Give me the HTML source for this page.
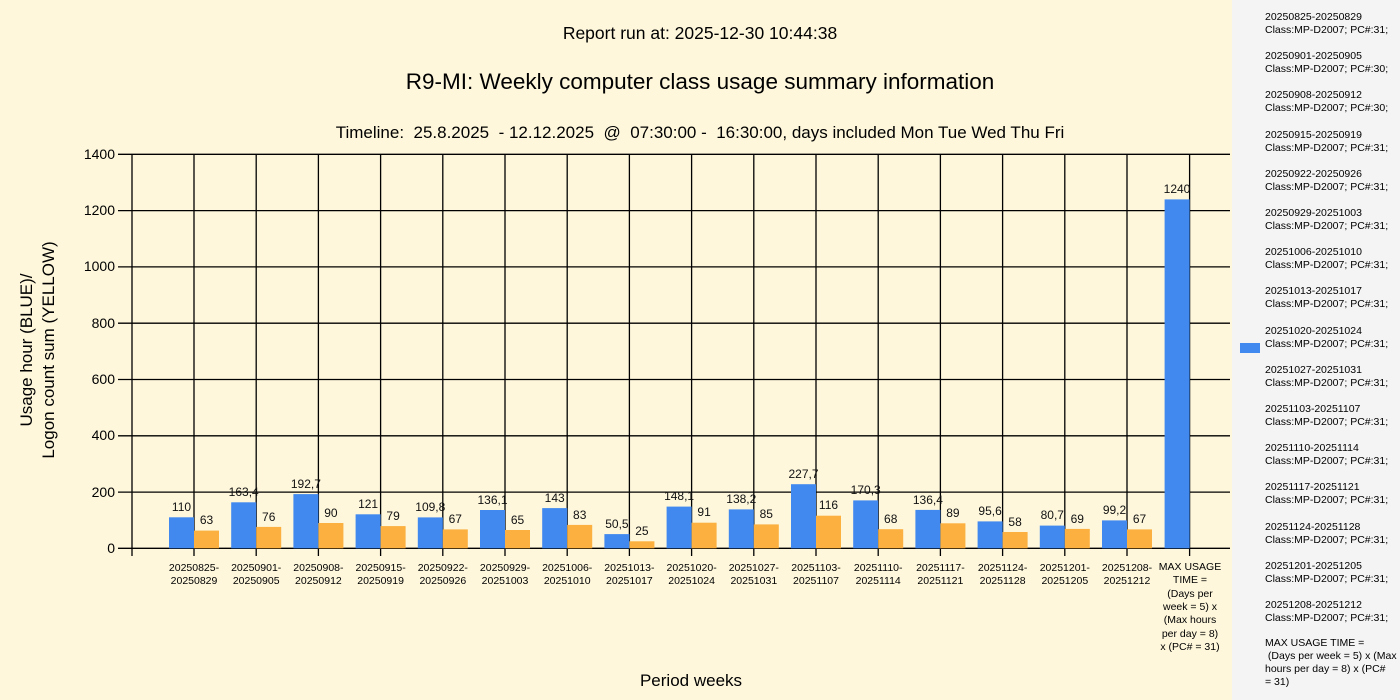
<!DOCTYPE html>
<html><head><meta charset="utf-8"><style>
html,body{margin:0;padding:0;background:#fef7dc;}
svg{display:block;font-family:"Liberation Sans",sans-serif;}
.pre{white-space:pre;}
</style></head><body>
<svg width="1400" height="700" xmlns="http://www.w3.org/2000/svg">
<rect width="1400" height="700" fill="#fef7dc"/>
<rect x="1232" y="0" width="168" height="700" fill="#f4f4f4"/>
<g font-size="16" text-anchor="middle" fill="#000">
<text x="700" y="39" font-size="17.5">Report run at: 2025-12-30 10:44:38</text>
<text x="700" y="89" font-size="22.5">R9-MI: Weekly computer class usage summary information</text>
<text x="700" y="138" font-size="17" class="pre" xml:space="preserve">Timeline:  25.8.2025  - 12.12.2025  @  07:30:00 -  16:30:00, days included Mon Tue Wed Thu Fri</text>
<text x="691" y="686" font-size="17">Period weeks</text>
<text transform="translate(32,350) rotate(-90)" font-size="17">Usage hour (BLUE)/</text>
<text transform="translate(54,350) rotate(-90)" font-size="17">Logon count sum (YELLOW)</text>
</g>
<g stroke="#000" stroke-width="1.3">
<line x1="118" y1="154.3" x2="1230" y2="154.3"/>
<line x1="118" y1="210.6" x2="1230" y2="210.6"/>
<line x1="118" y1="266.9" x2="1230" y2="266.9"/>
<line x1="118" y1="323.2" x2="1230" y2="323.2"/>
<line x1="118" y1="379.5" x2="1230" y2="379.5"/>
<line x1="118" y1="435.8" x2="1230" y2="435.8"/>
<line x1="118" y1="492.1" x2="1230" y2="492.1"/>
<line x1="118" y1="548.3" x2="1230" y2="548.3"/>
<line x1="132" y1="154" x2="132" y2="556"/>
<line x1="194" y1="154" x2="194" y2="556"/>
<line x1="256.2" y1="154" x2="256.2" y2="556"/>
<line x1="318.4" y1="154" x2="318.4" y2="556"/>
<line x1="380.6" y1="154" x2="380.6" y2="556"/>
<line x1="442.8" y1="154" x2="442.8" y2="556"/>
<line x1="505" y1="154" x2="505" y2="556"/>
<line x1="567.2" y1="154" x2="567.2" y2="556"/>
<line x1="629.4" y1="154" x2="629.4" y2="556"/>
<line x1="691.6" y1="154" x2="691.6" y2="556"/>
<line x1="753.8" y1="154" x2="753.8" y2="556"/>
<line x1="816" y1="154" x2="816" y2="556"/>
<line x1="878.2" y1="154" x2="878.2" y2="556"/>
<line x1="940.4" y1="154" x2="940.4" y2="556"/>
<line x1="1002.6" y1="154" x2="1002.6" y2="556"/>
<line x1="1064.8" y1="154" x2="1064.8" y2="556"/>
<line x1="1127" y1="154" x2="1127" y2="556"/>
<line x1="1189.6" y1="154" x2="1189.6" y2="556"/>
</g>
<g font-size="14" text-anchor="end">
<text x="115" y="159">1400</text><text x="115" y="215">1200</text><text x="115" y="271">1000</text>
<text x="115" y="328">800</text><text x="115" y="384">600</text><text x="115" y="440">400</text>
<text x="115" y="497">200</text><text x="115" y="553">0</text>
</g>
<g fill="#4189ef">
<rect x="169" y="517.3" width="25" height="31"/>
<rect x="231.2" y="502.3" width="25" height="46"/>
<rect x="293.4" y="494.1" width="25" height="54.2"/>
<rect x="355.6" y="514.3" width="25" height="34"/>
<rect x="417.8" y="517.4" width="25" height="30.9"/>
<rect x="480" y="510" width="25" height="38.3"/>
<rect x="542.2" y="508.1" width="25" height="40.2"/>
<rect x="604.4" y="534.1" width="25" height="14.2"/>
<rect x="666.6" y="506.6" width="25" height="41.7"/>
<rect x="728.8" y="509.4" width="25" height="38.9"/>
<rect x="791" y="484.2" width="25" height="64.1"/>
<rect x="853.2" y="500.4" width="25" height="47.9"/>
<rect x="915.4" y="509.9" width="25" height="38.4"/>
<rect x="977.6" y="521.4" width="25" height="26.9"/>
<rect x="1039.8" y="525.6" width="25" height="22.7"/>
<rect x="1102" y="520.4" width="25" height="27.9"/>
<rect x="1164.6" y="199.4" width="25" height="348.9"/>
</g>
<g fill="#fbb03f">
<rect x="194" y="530.6" width="25" height="17.7"/>
<rect x="256.2" y="526.9" width="25" height="21.4"/>
<rect x="318.4" y="523" width="25" height="25.3"/>
<rect x="380.6" y="526.1" width="25" height="22.2"/>
<rect x="442.8" y="529.4" width="25" height="18.9"/>
<rect x="505" y="530" width="25" height="18.3"/>
<rect x="567.2" y="524.9" width="25" height="23.4"/>
<rect x="629.4" y="541.3" width="25" height="7"/>
<rect x="691.6" y="522.7" width="25" height="25.6"/>
<rect x="753.8" y="524.4" width="25" height="23.9"/>
<rect x="816" y="515.7" width="25" height="32.6"/>
<rect x="878.2" y="529.2" width="25" height="19.1"/>
<rect x="940.4" y="523.3" width="25" height="25"/>
<rect x="1002.6" y="532" width="25" height="16.3"/>
<rect x="1064.8" y="528.9" width="25" height="19.4"/>
<rect x="1127" y="529.4" width="25" height="18.9"/>
</g>
<g font-size="12" text-anchor="middle" fill="#111">
<text x="181.5" y="511">110</text><text x="206.5" y="524">63</text>
<text x="243.7" y="496">163,4</text><text x="268.7" y="521">76</text>
<text x="305.9" y="488">192,7</text><text x="330.9" y="517">90</text>
<text x="368.1" y="508">121</text><text x="393.1" y="520">79</text>
<text x="430.3" y="511">109,8</text><text x="455.3" y="523">67</text>
<text x="492.5" y="504">136,1</text><text x="517.5" y="524">65</text>
<text x="554.7" y="502">143</text><text x="579.7" y="519">83</text>
<text x="616.9" y="528">50,5</text><text x="641.9" y="535">25</text>
<text x="679.1" y="500">148,1</text><text x="704.1" y="516">91</text>
<text x="741.3" y="503">138,2</text><text x="766.3" y="518">85</text>
<text x="803.5" y="478">227,7</text><text x="828.5" y="509">116</text>
<text x="865.7" y="494">170,3</text><text x="890.7" y="523">68</text>
<text x="927.9" y="504">136,4</text><text x="952.9" y="517">89</text>
<text x="990.1" y="515">95,6</text><text x="1015.1" y="526">58</text>
<text x="1052.3" y="519">80,7</text><text x="1077.3" y="523">69</text>
<text x="1114.5" y="514">99,2</text><text x="1139.5" y="523">67</text>
<text x="1177" y="193">1240</text>
</g>
<g font-size="10.5" text-anchor="middle" fill="#000">
<text x="194" y="571">20250825-</text><text x="194" y="584">20250829</text>
<text x="256.2" y="571">20250901-</text><text x="256.2" y="584">20250905</text>
<text x="318.4" y="571">20250908-</text><text x="318.4" y="584">20250912</text>
<text x="380.6" y="571">20250915-</text><text x="380.6" y="584">20250919</text>
<text x="442.8" y="571">20250922-</text><text x="442.8" y="584">20250926</text>
<text x="505" y="571">20250929-</text><text x="505" y="584">20251003</text>
<text x="567.2" y="571">20251006-</text><text x="567.2" y="584">20251010</text>
<text x="629.4" y="571">20251013-</text><text x="629.4" y="584">20251017</text>
<text x="691.6" y="571">20251020-</text><text x="691.6" y="584">20251024</text>
<text x="753.8" y="571">20251027-</text><text x="753.8" y="584">20251031</text>
<text x="816" y="571">20251103-</text><text x="816" y="584">20251107</text>
<text x="878.2" y="571">20251110-</text><text x="878.2" y="584">20251114</text>
<text x="940.4" y="571">20251117-</text><text x="940.4" y="584">20251121</text>
<text x="1002.6" y="571">20251124-</text><text x="1002.6" y="584">20251128</text>
<text x="1064.8" y="571">20251201-</text><text x="1064.8" y="584">20251205</text>
<text x="1127" y="571">20251208-</text><text x="1127" y="584">20251212</text>
<text x="1190" y="570">MAX USAGE</text><text x="1190" y="583">TIME =</text>
<text x="1190" y="597">(Days per</text><text x="1190" y="610">week = 5) x</text>
<text x="1190" y="623">(Max hours</text><text x="1190" y="637">per day = 8)</text>
<text x="1190" y="650">x (PC# = 31)</text>
</g>
<rect x="1240" y="343" width="20" height="10" fill="#4189ef"/>
<g font-size="10.5" fill="#000">
<text x="1265" y="20">20250825-20250829</text><text x="1265" y="33">Class:MP-D2007; PC#:31;</text>
<text x="1265" y="59">20250901-20250905</text><text x="1265" y="72">Class:MP-D2007; PC#:30;</text>
<text x="1265" y="98">20250908-20250912</text><text x="1265" y="111">Class:MP-D2007; PC#:30;</text>
<text x="1265" y="138">20250915-20250919</text><text x="1265" y="151">Class:MP-D2007; PC#:31;</text>
<text x="1265" y="177">20250922-20250926</text><text x="1265" y="190">Class:MP-D2007; PC#:31;</text>
<text x="1265" y="216">20250929-20251003</text><text x="1265" y="229">Class:MP-D2007; PC#:31;</text>
<text x="1265" y="255">20251006-20251010</text><text x="1265" y="268">Class:MP-D2007; PC#:31;</text>
<text x="1265" y="294">20251013-20251017</text><text x="1265" y="307">Class:MP-D2007; PC#:31;</text>
<text x="1265" y="334">20251020-20251024</text><text x="1265" y="347">Class:MP-D2007; PC#:31;</text>
<text x="1265" y="373">20251027-20251031</text><text x="1265" y="386">Class:MP-D2007; PC#:31;</text>
<text x="1265" y="412">20251103-20251107</text><text x="1265" y="425">Class:MP-D2007; PC#:31;</text>
<text x="1265" y="451">20251110-20251114</text><text x="1265" y="464">Class:MP-D2007; PC#:31;</text>
<text x="1265" y="490">20251117-20251121</text><text x="1265" y="503">Class:MP-D2007; PC#:31;</text>
<text x="1265" y="530">20251124-20251128</text><text x="1265" y="543">Class:MP-D2007; PC#:31;</text>
<text x="1265" y="569">20251201-20251205</text><text x="1265" y="582">Class:MP-D2007; PC#:31;</text>
<text x="1265" y="608">20251208-20251212</text><text x="1265" y="621">Class:MP-D2007; PC#:31;</text>
<text x="1265" y="646">MAX USAGE TIME =</text><text x="1265" y="659" class="pre" xml:space="preserve"> (Days per week = 5) x (Max</text>
<text x="1265" y="672">hours per day = 8) x (PC#</text><text x="1265" y="685">= 31)</text>
</g>
</svg>
</body></html>
